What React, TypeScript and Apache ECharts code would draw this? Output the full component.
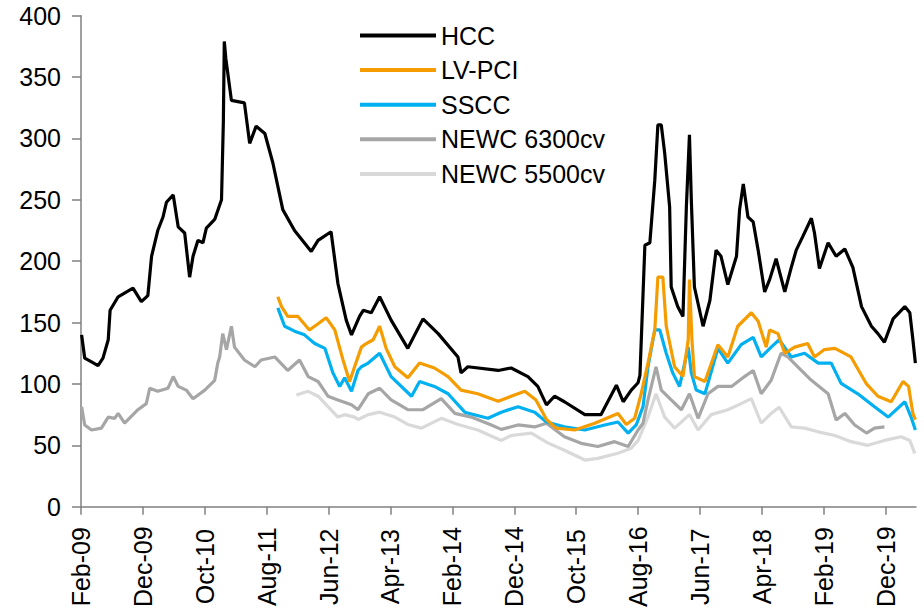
import React, { useEffect, useRef } from "react";
import * as echarts from "echarts";

// x = months since Feb-2009, y = price (US$/t)
const HCC: [number, number][] = [
  [0.1,140],[0.6,121],[1.7,118],[2.75,115],[3.55,121],[4.4,136],[4.7,160],[6,171],[8.4,178],[9.75,167],[10.8,172],[11.4,204],[12.4,225],[13.25,236],[13.8,248],[14.9,254],[15.7,228],[16.75,223],[17.55,187],[18.1,204],[18.9,217],[19.7,215],[20.25,227],[21.6,234],[22.7,250],[23.0,314],[23.15,379],[23.4,365],[24.3,331],[26.4,329],[27.25,296],[28.3,310],[29.7,304],[31,280],[32.6,242],[34.5,225],[37.2,208],[38.3,217],[40.4,224],[41.5,182],[42.85,152],[43.7,140],[45.0,155],[45.6,160],[46.9,158],[48.25,171],[50.1,152],[52.8,129],[55.25,153],[57.7,141],[60.9,122],[61.4,109],[62.5,114],[67.4,111],[69.5,113],[72.2,106],[73.8,98],[75.2,83],[76.5,90],[78.1,85.5],[81.4,75],[84,75],[86.5,99],[87.6,85.5],[88.9,95],[90.0,101],[90.3,107],[91.1,213],[91.9,215],[92.7,266],[93.2,311],[93.75,311],[94.3,288],[95.1,244],[95.35,179],[96.4,163],[97.25,155],[97.8,244],[98.3,303],[98.6,250],[99.1,179],[100.5,147],[101.6,168],[102.6,209],[103.4,204],[104.5,181],[105.9,204],[106.4,242],[107,263],[107.75,236],[108.6,232],[109.4,209],[110.45,175],[111.25,185],[112.3,202],[113.7,175],[114.75,195],[115.55,209],[116.6,220],[118,235],[118.5,223],[119.3,194],[120.7,215],[122,204],[123.4,210],[124.7,195],[126.1,163],[127.7,147],[128.75,141],[129.8,134],[131.2,153],[133.1,163],[133.9,158],[134.4,136],[134.8,117]
];
const LV_PCI: [number, number][] = [
  [31.8,171],[32.4,163],[33.4,155],[35.05,155],[36.9,144],[38.3,149],[39.6,154],[41,144],[42.3,120],[43.4,102],[44.2,114],[45.3,130],[45.8,132],[47.2,136],[48.25,147],[49.3,129],[50.7,114],[52.8,105],[54.7,117],[57.1,113],[59.3,106],[61.4,95],[64.1,92],[67.4,86],[69.5,90],[71.7,94],[73.5,87],[75.2,71],[76.8,64],[79.75,62.5],[83,68],[86.75,76],[88.1,67],[89.45,72],[90.5,92],[91.6,117],[92.7,144],[93.2,187],[94,187],[94.55,147],[95.9,114],[97.25,106],[98.1,136],[98.3,185],[98.7,136],[99.1,106],[100.8,102],[102.9,132],[104.5,122],[106.1,147],[108.3,158],[109.4,151],[110.7,130],[111.25,144],[112.6,141],[113.7,125],[115.3,130],[117.4,133],[118.5,122],[120.1,128],[121.8,129],[124.4,122],[126.9,100],[128.75,90],[130.9,85.5],[132.8,102],[133.7,98],[134.4,76],[134.8,71]
];
const SSCC: [number, number][] = [
  [31.8,162],[32.9,147],[34.5,143],[36.1,140],[37.75,133],[39.4,129],[40.7,109],[41.8,98],[42.6,105],[43.7,94],[44.75,111],[45.3,114],[46.4,117],[48.25,125],[50.1,106],[53.4,90],[54.7,102],[57.1,98],[59.3,92],[62,77],[65.75,72],[67.9,77],[70.6,81.5],[73.3,77],[75.2,69],[78.1,65],[81.4,62.5],[84.6,66.6],[86.75,69],[88.4,60],[89.7,66.6],[90.8,81.5],[91.6,114],[92.7,144],[93.5,144],[94.55,125],[95.6,109],[96.7,98],[98.1,130],[98.6,109],[99.4,95],[100.8,92],[102.9,129],[104.5,117],[106.65,132],[108.6,138],[109.9,122],[111.5,130],[112.8,136],[114.75,122],[116.9,125],[119.1,117],[121.2,117],[122.8,100.5],[125.5,92],[128.2,81.5],[130.4,73],[133.1,85.5],[134.1,73],[134.8,62.5]
];
const NEWC_6300: [number, number][] = [
  [0.1,81.5],[0.6,66.6],[1.7,62.5],[3.3,64],[4.4,73],[5.45,72],[6,76],[7.05,68],[9.2,79],[10.55,84],[11.1,96.5],[12.4,94],[14.05,96.5],[14.9,106],[15.7,98],[17,95],[18.1,88],[20,95],[21.6,103],[22.1,117],[22.4,122],[22.9,141],[23.5,128],[24.3,147],[24.8,130],[26.4,119.5],[28.1,114],[29.1,119.5],[31.3,122],[33.4,111],[35.3,119.5],[36.7,106],[38.3,102],[39.9,90],[41.5,87],[43.7,83],[44.75,79],[46.4,92],[48.25,96.5],[50.1,87],[52.8,79],[55.25,79],[58.2,88],[60.4,76],[63.05,73],[66.3,66.6],[67.9,63],[70.6,66.6],[73.3,65],[75.2,68],[78.1,57],[80.8,51.6],[83.5,49],[86.2,53],[88.4,49],[90,62.5],[90.8,68],[91.6,87],[92.9,114],[93.75,95],[95.35,87],[97,79],[98.3,92],[99.7,72],[101.3,92],[102.9,98],[105.1,98],[107.2,106],[108.6,111],[109.9,92],[111.5,103],[113.1,125],[114.2,122],[115.8,114],[118,103],[120.7,92],[122,70.6],[123.4,76],[125,66.6],[126.9,60],[128.2,64],[129.8,65]
];
const NEWC_5500: [number, number][] = [
  [34.8,91],[36.7,94],[38.3,90],[39.9,81.5],[41.5,73],[42.6,75],[44.2,73],[44.75,71],[46.4,75],[48.25,77],[50.7,73],[52.8,67],[55,64],[58.2,72],[60.9,67],[64.1,62.5],[67.9,54],[69.5,58],[72.75,60],[75.4,52],[78.1,46],[81.4,38],[83.5,39.4],[86.75,43.5],[88.9,47.6],[90,54],[90.5,60],[91.6,73],[92.9,92],[94.3,73],[95.9,64],[98.3,75],[99.7,62.5],[101.8,75],[104.5,79],[106.65,84],[108.3,88],[109.9,68],[111.5,76],[112.8,81],[114.75,65],[116.9,64],[119.1,61],[121.8,58],[124.4,53],[127.1,50],[129.8,54],[132.5,57],[133.9,54],[134.7,43.5]
];

const SERIES_NAMES = ["HCC", "LV-PCI", "SSCC", "NEWC 6300cv", "NEWC 5500cv"];
const SERIES_DATA = [HCC, LV_PCI, SSCC, NEWC_6300, NEWC_5500];
const SERIES_COLORS = ["#000000", "#F59C00", "#00B0F0", "#A6A6A6", "#D9D9D9"];
const MONTHS = ["Jan","Feb","Mar","Apr","May","Jun","Jul","Aug","Sep","Oct","Nov","Dec"];
const START_YEAR = 2009;
const START_MONTH = 1; // Feb

const FONT = "'Liberation Sans', Arial, sans-serif";

function monthLabel(v: number): string {
  const total = START_MONTH + Math.round(v);
  const y = START_YEAR + Math.floor(total / 12);
  const m = total % 12;
  return MONTHS[m] + "-" + String(y % 100).padStart(2, "0");
}

export default function App() {
  const ref = useRef<HTMLDivElement>(null);
  useEffect(() => {
    if (!ref.current) return;
    const chart = echarts.init(ref.current, null, { renderer: "svg" });
    chart.setOption({
      animation: false,
      backgroundColor: "#ffffff",
      textStyle: { fontFamily: FONT },
      grid: { left: 81, right: 8, top: 15.7, bottom: 109.3 },
      legend: {
        orient: "vertical",
        left: 355,
        top: 18,
        icon: "rect",
        itemWidth: 76,
        itemHeight: 4,
        itemGap: 9.6,
        textStyle: { fontFamily: FONT, fontSize: 25, color: "#000", lineHeight: 25 },
        data: SERIES_NAMES,
      },
      xAxis: {
        type: "value",
        min: 0,
        max: 134.9,
        interval: 10,
        splitLine: { show: false },
        axisLine: { lineStyle: { color: "#808080", width: 1.5 } },
        axisTick: { show: true, length: 8, lineStyle: { color: "#808080", width: 1.5 } },
        axisLabel: {
          rotate: 90,
          align: "center",
          margin: 60,
          fontSize: 25,
          color: "#000",
          fontFamily: FONT,
          showMaxLabel: false,
          formatter: (v: number) => monthLabel(v),
        },
      },
      yAxis: {
        type: "value",
        min: 0,
        max: 400,
        interval: 50,
        splitLine: { show: false },
        axisLine: { show: true, lineStyle: { color: "#808080", width: 1.5 } },
        axisTick: { show: true, length: 9, lineStyle: { color: "#808080", width: 1.5 } },
        axisLabel: { fontSize: 25, color: "#000", margin: 20, fontFamily: FONT },
      },
      series: SERIES_NAMES.map((name, i) => ({
        name,
        type: "line",
        data: SERIES_DATA[i],
        showSymbol: false,
        symbol: "none",
        color: SERIES_COLORS[i],
        lineStyle: { color: SERIES_COLORS[i], width: 3.2 },
        z: 10 - i,
      })),
    });
    return () => chart.dispose();
  }, []);
  return (
    <div
      ref={ref}
      style={{ position: "absolute", left: 0, top: 0, width: 924, height: 616 }}
    />
  );
}
